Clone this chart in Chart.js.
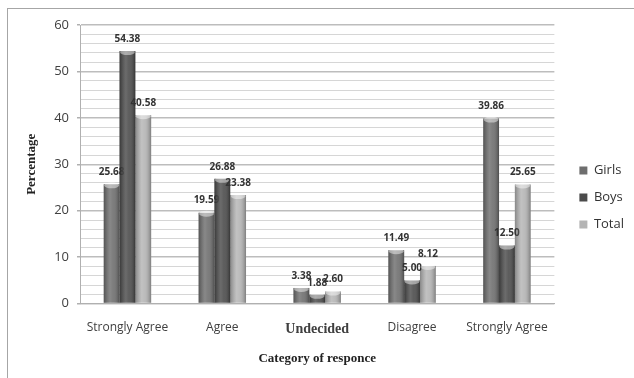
<!DOCTYPE html>
<html>
<head>
<meta charset="utf-8">
<script src="https://cdn.jsdelivr.net/npm/chart.js@4.4.0/dist/chart.umd.min.js"></script>
<style>
  html, body { margin: 0; padding: 0; background: #fff; }
  #wrap { position: relative; width: 634px; height: 378px; }
  #frame { position: absolute; left: 7px; top: 8px; width: 640px; height: 380px; border: 1px solid #a6a6a6; box-sizing: border-box; }
  canvas { position: absolute; left: 0; top: 0; }
</style>
</head>
<body>
<div id="wrap">
  <div id="frame"></div>
  <canvas id="chart" width="634" height="378"></canvas>
</div>
<script>
// Data
const categories = ["Strongly Agree", "Agree", "Undecided", "Disagree", "Strongly Agree"];
const girls = [25.68, 19.59, 3.38, 11.49, 39.86];
const boys = [54.38, 26.88, 1.88, 5.00, 12.50];
const total = [40.58, 23.38, 2.60, 8.12, 25.65];
const seriesNames = ["Girls", "Boys", "Total"];
const seriesColors = ["#6e6e6e", "#4b4b4b", "#b4b4b4"];

// Cylinder look + value labels on top of the bars
const barStyle = {
  id: "barStyle",
  afterLayout(chart) {
    // push the legend a little further from the plot
    const lg = chart.legend;
    if (lg) { lg.left += 11; lg.right += 11; }
  },
  afterDatasetsDraw(chart) {
    const ctx = chart.ctx;
    chart.data.datasets.forEach((ds, i) => {
      const meta = chart.getDatasetMeta(i);
      meta.data.forEach((bar, j) => {
        const left = bar.x - bar.width / 2;
        const w = bar.width;
        const top = bar.y;
        const bottom = bar.base;
        // shading over the flat bar
        const g = ctx.createLinearGradient(left, 0, left + w, 0);
        g.addColorStop(0, "rgba(0,0,0,0.25)");
        g.addColorStop(0.4, "rgba(255,255,255,0.18)");
        g.addColorStop(0.6, "rgba(255,255,255,0.1)");
        g.addColorStop(1, "rgba(0,0,0,0.3)");
        ctx.save();
        ctx.fillStyle = g;
        ctx.fillRect(left, top, w, bottom - top);
        // top cap
        ctx.beginPath();
        ctx.ellipse(bar.x, top + 1, w / 2 - 0.5, 3, 0, 0, Math.PI * 2);
        ctx.fillStyle = "rgba(255,255,255,0.45)";
        ctx.fill();
        ctx.restore();

        // value label
        ctx.save();
        ctx.font = "bold 10px 'Open Sans', sans-serif";
        ctx.fillStyle = "#333";
        ctx.textAlign = "center";
        ctx.textBaseline = "middle";
        ctx.fillText(ds.data[j].toFixed(2), bar.x, top - 12);
        ctx.restore();
      });
    });
  }
};

new Chart(document.getElementById("chart"), {
  type: "bar",
  data: {
    labels: categories,
    datasets: [
      { label: seriesNames[0], data: girls, backgroundColor: seriesColors[0] },
      { label: seriesNames[1], data: boys, backgroundColor: seriesColors[1] },
      { label: seriesNames[2], data: total, backgroundColor: seriesColors[2] }
    ]
  },
  options: {
    responsive: false,
    animation: false,
    layout: { padding: { top: 25, left: 20, right: 11, bottom: 8 } },
    datasets: { bar: { categoryPercentage: 0.5, barPercentage: 1.0 } },
    plugins: {
      tooltip: { enabled: false },
      legend: {
        position: "right",
        labels: {
          boxWidth: 8, boxHeight: 8, padding: 14,
          color: "#333",
          font: { family: "'Open Sans', sans-serif", size: 13 }
        }
      }
    },
    scales: {
      x: {
        grid: { display: false },
        border: { color: "#b0b0b0" },
        ticks: {
          color: "#404040",
          padding: 9,
          font: c => c.index === 2
            ? { family: "'Liberation Serif', serif", size: 14, weight: "bold" }
            : { family: "'Open Sans', sans-serif", size: 12 }
        },
        title: {
          display: true,
          text: "Category of responce",
          color: "#222",
          font: { family: "'Liberation Serif', serif", size: 13, weight: "bold" },
          padding: { top: 4 }
        }
      },
      y: {
        min: 0,
        max: 60,
        afterFit: s => { s.width = 60; },
        border: { color: "#b0b0b0" },
        grid: {
          color: c => (c.tick && c.tick.value % 10 === 0) ? "#bdbdbd" : "#d6d6d6",
          lineWidth: c => (c.tick && c.tick.value % 10 === 0) ? 1.5 : 1,
          tickLength: 3,
          tickColor: c => (c.tick && c.tick.value % 10 === 0) ? "#b0b0b0" : "rgba(0,0,0,0)"
        },
        ticks: {
          stepSize: 2,
          autoSkip: false,
          color: "#404040",
          padding: 8,
          font: { family: "'Open Sans', sans-serif", size: 13 },
          callback: v => v % 10 === 0 ? v : ""
        },
        title: {
          display: true,
          text: "Percentage",
          color: "#222",
          font: { family: "'Liberation Serif', serif", size: 13, weight: "bold" }
        }
      }
    }
  },
  plugins: [barStyle]
});
</script>
</body>
</html>
